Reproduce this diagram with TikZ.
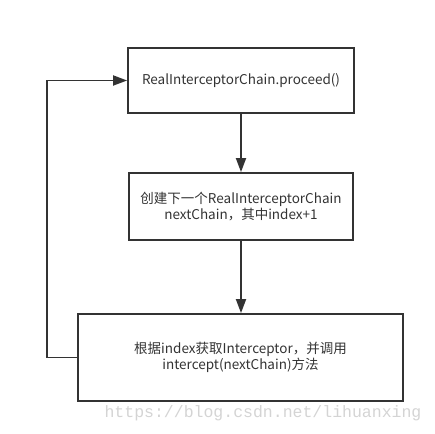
\documentclass[tikz,border=0pt]{standalone}
\usepackage{fontspec}
\setmainfont{Noto Sans CJK SC}
\setmonofont{Liberation Mono}
\usepackage{xcolor}
\usetikzlibrary{arrows.meta, positioning}
\definecolor{linegray}{HTML}{333333}
\definecolor{markgray}{HTML}{D4D4D4}
\tikzset{
  flowbox/.style={draw=linegray, line width=1.8pt, text=linegray, align=center,
    font=\fontsize{13.5}{16}\selectfont, inner sep=0pt},
  flowline/.style={draw=linegray, line width=1.8pt, -{Triangle[length=14pt,width=10pt]}}
}

\begin{document}
\begin{tikzpicture}[x=1pt,y=1pt]
      \useasboundingbox (0,0) rectangle (435,433);

      \node[flowbox, minimum width=226pt, minimum height=65pt] (proceed) at (241,352.5)
        {RealInterceptorChain.proceed()};
      \node[flowbox, minimum width=224pt, minimum height=67pt] (next) at (241,226.5)
        {创建下一个RealInterceptorChain\\nextChain，其中index+1};
      \node[flowbox, minimum width=325pt, minimum height=87pt] (intercept) at (240.5,75.5)
        {根据index获取Interceptor，并调用\\intercept(nextChain)方法};

      \draw[flowline] (proceed) -- (next);
      \draw[flowline] (next) -- (next |- intercept.north);
      \draw[flowline] (intercept.west) -- ++(-30,0) coordinate (loop) |- (proceed.west);

      \node[text=markgray, font=\ttfamily\fontsize{16.5}{18}\selectfont] (mark) at (263,20)
        {https://blog.csdn.net/lihuanxing};
    \end{tikzpicture}
\end{document}
